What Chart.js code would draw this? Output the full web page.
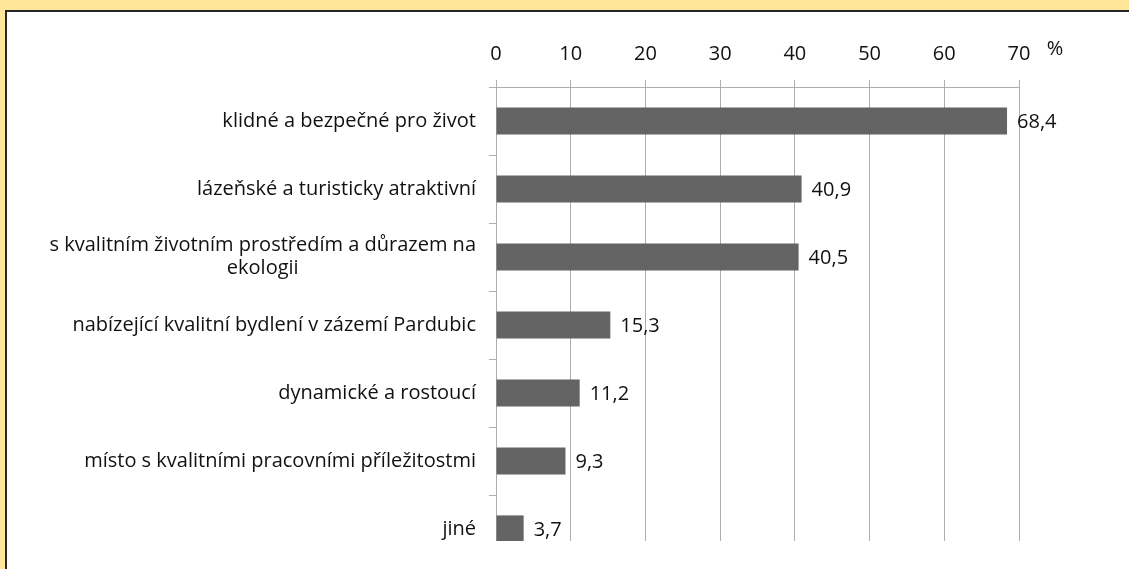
<!DOCTYPE html>
<html>
<head>
<meta charset="utf-8">
<script src="https://cdn.jsdelivr.net/npm/chart.js@4.4.1/dist/chart.umd.min.js"></script>
<style>
  html, body { margin: 0; padding: 0; width: 1129px; height: 569px; overflow: hidden; background: #ffe699; }
  #panel { position: absolute; left: 5px; top: 10px; width: 1130px; height: 570px; background: #fff; border-left: 2px solid #262626; border-top: 2px solid #262626; }
  #wrap { position: absolute; left: 0; top: 0; width: 1129px; height: 541px; overflow: hidden; }
  #wrap canvas { display: block; }
</style>
</head>
<body>
<div id="panel"></div>
<div id="wrap"><canvas id="chart" width="1129" height="600"></canvas></div>
<script>
const categories = [
  ["klidné a bezpečné pro život"],
  ["lázeňské a turisticky atraktivní"],
  ["s kvalitním životním prostředím a důrazem na", "ekologii"],
  ["nabízející kvalitní bydlení v zázemí Pardubic"],
  ["dynamické a rostoucí"],
  ["místo s kvalitními pracovními příležitostmi"],
  ["jiné"]
];
const values = [68.4, 40.9, 40.5, 15.3, 11.2, 9.3, 3.7];
const axisMin = 0;
const axisMax = 70;
const axisStep = 10;
const unitLabel = "%";

const FONT = "'Open Sans', sans-serif";
const FONT_SIZE = 20;
const TEXT = "#111";
const GRID = "#adadad";

function commaNum(v) {
  return String(v).replace(".", ",");
}

// category labels: right aligned, extra lines centred under the first one
const catLabels = {
  id: "catLabels",
  afterDraw(chart) {
    const ys = chart.scales.y;
    const ctx = chart.ctx;
    ctx.save();
    ctx.font = FONT_SIZE + "px " + FONT;
    ctx.fillStyle = TEXT;
    ctx.textAlign = "center";
    ctx.textBaseline = "middle";
    const lh = 23;
    categories.forEach((lines, i) => {
      const y = ys.getPixelForTick(i);
      const right = ys.right - 20;
      const w = Math.max(...lines.map((t) => ctx.measureText(t).width));
      const y0 = y - (lines.length - 1) * lh / 2;
      lines.forEach((t, k) => ctx.fillText(t, right - w / 2, y0 + k * lh));
    });
    ctx.restore();
  }
};

const valueLabels = {
  id: "valueLabels",
  afterDatasetsDraw(chart) {
    const ctx = chart.ctx;
    const meta = chart.getDatasetMeta(0);
    ctx.save();
    ctx.font = FONT_SIZE + "px " + FONT;
    ctx.fillStyle = TEXT;
    ctx.textAlign = "left";
    ctx.textBaseline = "middle";
    meta.data.forEach((bar, i) => {
      ctx.fillText(commaNum(values[i]), bar.x + 10, bar.y + 1);
    });
    ctx.restore();
  }
};

const unitMark = {
  id: "unitMark",
  afterDraw(chart) {
    const xs = chart.scales.x;
    const ctx = chart.ctx;
    ctx.save();
    ctx.font = FONT_SIZE + "px " + FONT;
    ctx.fillStyle = TEXT;
    ctx.textAlign = "center";
    ctx.textBaseline = "middle";
    ctx.fillText(unitLabel, xs.right + 36, 49);
    ctx.restore();
  }
};

new Chart(document.getElementById("chart"), {
  type: "bar",
  data: {
    labels: categories,
    datasets: [{
      data: values,
      backgroundColor: "#646464",
      borderWidth: 0,
      barPercentage: 0.4,
      categoryPercentage: 1
    }]
  },
  options: {
    indexAxis: "y",
    responsive: false,
    animation: false,
    layout: { padding: { top: 0, left: 0, right: 110, bottom: 37 } },
    plugins: { legend: { display: false }, tooltip: { enabled: false } },
    scales: {
      x: {
        position: "top",
        min: axisMin,
        max: axisMax,
        afterFit: (s) => { s.height = 87; },
        ticks: {
          stepSize: axisStep,
          padding: 14,
          color: TEXT,
          font: { family: FONT, size: FONT_SIZE }
        },
        grid: { color: GRID, lineWidth: 1, tickLength: 7 },
        border: { display: true, color: GRID, width: 1 }
      },
      y: {
        afterFit: (s) => { s.width = 496; },
        ticks: { display: false },
        grid: { offset: true, drawOnChartArea: false, color: GRID, tickLength: 7 },
        border: { display: true, color: GRID, width: 1 }
      }
    }
  },
  plugins: [catLabels, valueLabels, unitMark]
});
</script>
</body>
</html>
